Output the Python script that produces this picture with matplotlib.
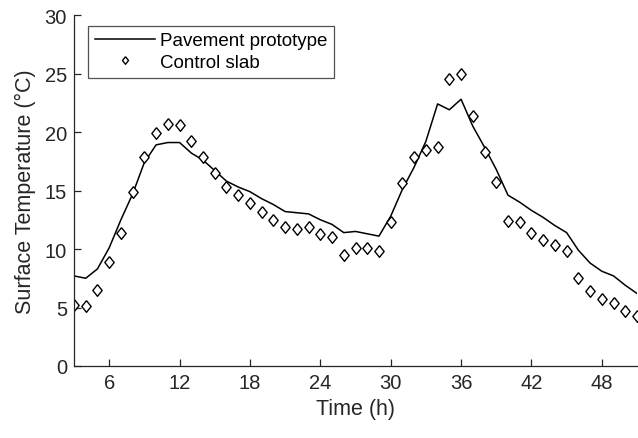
import matplotlib
matplotlib.use("Agg")

import matplotlib.pyplot as plt
import numpy as np

# hourly readings
hours = np.arange(3, 52)

pavement = [
    7.7, 7.5, 8.3, 10.1, 12.5, 14.7, 17.4, 18.9, 19.1, 19.1,
    18.2, 17.6, 16.7, 15.8, 15.3, 14.9, 14.3, 13.8, 13.2, 13.1,
    13.0, 12.5, 12.1, 11.4, 11.5, 11.3, 11.1, 12.8, 15.1, 17.0,
    19.2, 22.4, 21.9, 22.8, 20.5, 18.7, 16.8, 14.6, 14.0, 13.3,
    12.7, 12.0, 11.4, 9.9, 8.8, 8.1, 7.7, 6.9, 6.2,
]

control = [
    5.2, 5.1, 6.5, 8.9, 11.4, 14.9, 17.9, 19.9, 20.7, 20.6,
    19.2, 17.9, 16.5, 15.3, 14.6, 13.9, 13.2, 12.5, 11.9, 11.7,
    11.9, 11.3, 11.0, 9.5, 10.1, 10.1, 9.8, 12.3, 15.6, 17.9,
    18.5, 18.7, 24.5, 25.0, 21.4, 18.3, 15.7, 12.4, 12.3, 11.4,
    10.8, 10.3, 9.8, 7.5, 6.4, 5.7, 5.4, 4.7, 4.3,
]

xticks = [6, 12, 18, 24, 30, 36, 42, 48]
yticks = [0, 5, 10, 15, 20, 25, 30]

plt.rcParams["font.family"] = ["Liberation Sans", "DejaVu Sans"]
text_color = "#262626"

fig = plt.figure(figsize=(6.38, 4.39), dpi=100)
ax = fig.add_axes([74 / 638, 1 - 367 / 439, 563 / 638, 351 / 439])

diamond = [(0, 1), (0.8, 0), (0, -1), (-0.8, 0), (0, 1)]

ax.plot(hours, pavement, color="black", linewidth=1.1, label="Pavement prototype")
ax.plot(hours, control, linestyle="none", marker=diamond, markersize=8.4,
        markerfacecolor="white", markeredgecolor="black", markeredgewidth=1.0,
        label="Control slab")

ax.set_xlim(3, 51)
ax.set_ylim(0, 30)
ax.set_xticks(xticks)
ax.set_yticks(yticks)

for side in ("top", "right"):
    ax.spines[side].set_visible(False)
for side in ("left", "bottom"):
    ax.spines[side].set_color(text_color)
    ax.spines[side].set_linewidth(0.9)

ax.tick_params(direction="in", length=5, width=0.9, colors=text_color,
               labelsize=14.5, pad=5)

ax.set_xlabel("Time (h)", fontsize=15.5, color=text_color, labelpad=4)
ax.set_ylabel("Surface Temperature (°C)", fontsize=15.5, color=text_color, labelpad=6)

leg = ax.legend(loc="upper left", bbox_to_anchor=(0.025, 0.97), fontsize=13.5,
                frameon=True, fancybox=False, edgecolor=text_color,
                handlelength=3.2, handletextpad=0.3, borderpad=0.35,
                labelspacing=0.25, borderaxespad=0.0, markerscale=0.65)
leg.get_frame().set_linewidth(0.9)
for t in leg.get_texts():
    t.set_color("black")

fig.savefig("out.png", dpi=100)
